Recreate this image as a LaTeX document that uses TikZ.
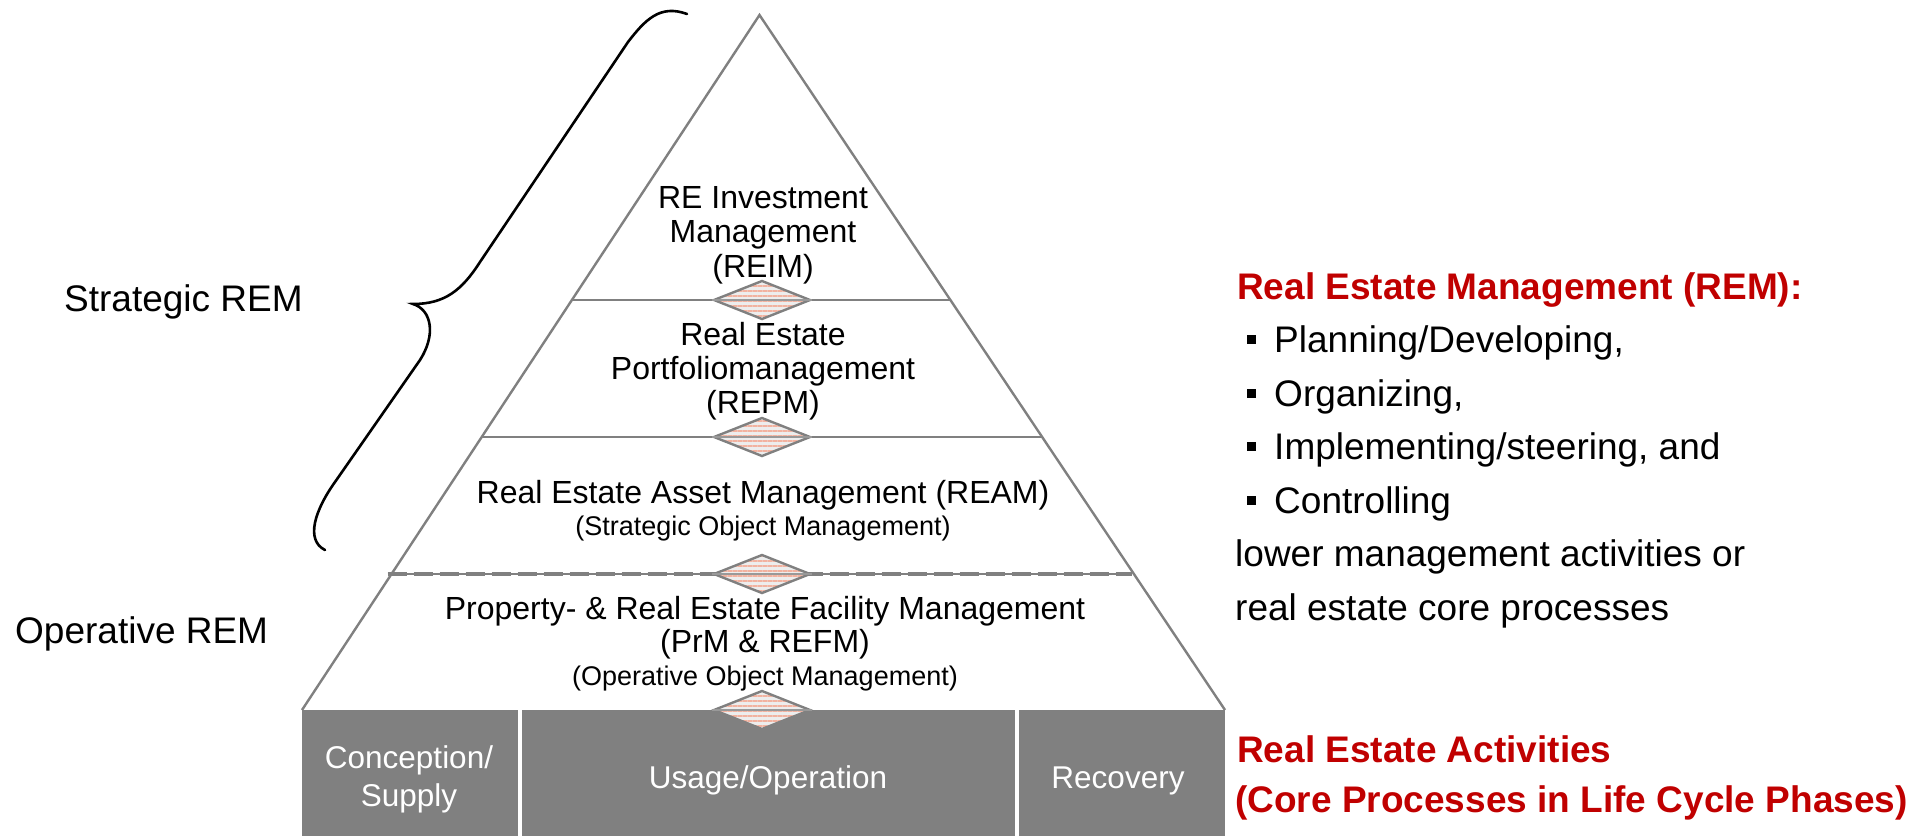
\documentclass[tikz,border=0pt]{standalone}
\usepackage{fontspec}
\setmainfont{Liberation Sans}
\usetikzlibrary{calc,shapes.geometric,patterns.meta}
\definecolor{linegray}{RGB}{128,128,128}
\definecolor{boxgray}{RGB}{128,128,128}
\definecolor{remred}{RGB}{192,0,0}
\definecolor{stripe}{RGB}{242,178,160}
\newcommand{\px}[1]{\fontsize{#1}{#1}\selectfont}

\begin{document}
\begin{tikzpicture}[x=1pt,y=-1pt,
  side/.style={draw=linegray,line width=2.4pt},
  tier/.style={draw=linegray,line width=2.6pt},
  dia/.style={diamond,draw=linegray,line width=2.4pt,minimum width=97pt,
    minimum height=39pt,inner sep=0pt,preaction={fill=gray!14},
    pattern={Lines[angle=0,distance=5pt,line width=2.4pt]},pattern color=stripe},
  core/.style={draw=gray!80,line width=1.4pt},
  txt/.style={anchor=base,inner sep=0pt,font=\px{32}},
  small/.style={anchor=base,inner sep=0pt,font=\px{27}},
  sidelabel/.style={anchor=base west,inner sep=0pt,font=\px{37}},
  list/.style={anchor=base west,inner sep=0pt,font=\px{37}},
  head/.style={anchor=base west,inner sep=0pt,font=\px{37}\bfseries,text=remred},
  phase/.style={fill=boxgray,draw=none,inner sep=0pt,minimum height=126pt},
  phasetxt/.style={anchor=base,inner sep=0pt,font=\px{31.5},text=white},
  bulletbox/.style={fill=black,inner sep=0pt,minimum size=9pt},
]
\useasboundingbox (0,0) rectangle (1930,836);

% pyramid outline
\coordinate (apex) at (759.5,15);
\coordinate (bl) at (302,710);
\coordinate (br) at (1225,710);
\draw[side] (bl) -- (apex) -- (br);

% tier borders
\coordinate (l1) at ($(apex)!0.4101!(bl)$);
\coordinate (r1) at ($(apex)!0.4101!(br)$);
\coordinate (l2) at ($(apex)!0.6072!(bl)$);
\coordinate (r2) at ($(apex)!0.6072!(br)$);
\coordinate (l3) at ($(apex)!0.8043!(bl)+(-4,0)$);
\coordinate (r3) at ($(apex)!0.8043!(br)+(-2,0)$);
\draw[tier] (l1) -- (r1);
\draw[tier] (l2) -- (r2);
\draw[draw=linegray,line width=1.4pt] (l3) -- (r3);
\draw[draw=linegray,line width=4.5pt,dash pattern=on 19pt off 7pt] (l3) -- (r3);

% life cycle phases
\node[phase,minimum width=216pt] (p1) at (410,773) {};
\node[phase,minimum width=493pt] (p2) at (768.5,773) {};
\node[phase,minimum width=206pt] (p3) at (1122,773) {};
\node[phasetxt] (p1a) at (409,768) {Conception/};
\node[phasetxt] (p1b) at (409,806) {Supply};
\node[phasetxt] (p2a) at (768,788) {Usage/Operation};
\node[phasetxt] (p3a) at (1118,788) {Recovery};

% interfaces between the tiers
\foreach \n/\y in {d1/300,d2/437,d3/574,d4/710}{
  \node[dia] (\n) at (762,\y) {};
  \draw[core] (\n.west) -- (\n.east);
}

% tier texts
\node[txt] (t1a) at (763,208) {RE Investment};
\node[txt] (t1b) at (763,242) {Management};
\node[txt] (t1c) at (763,277) {(REIM)};
\node[txt] (t2a) at (763,345) {Real Estate};
\node[txt] (t2b) at (763,379) {Portfoliomanagement};
\node[txt] (t2c) at (763,413) {(REPM)};
\node[txt] (t3a) at (763,503) {Real Estate Asset Management (REAM)};
\node[small] (t3b) at (763,535) {(Strategic Object Management)};
\node[txt] (t4a) at (765,619) {Property- \& Real Estate Facility Management};
\node[txt] (t4b) at (765,652) {(PrM \& REFM)};
\node[small] (t4c) at (765,685) {(Operative Object Management)};

% brace over the strategic tiers
\draw[line width=2.6pt,line cap=round]
  (687,14) .. controls (660,4) and (645,20) .. (628,42)
  -- (480,262) .. controls (462,290) and (445,304) .. (413,304)
  .. controls (432,310) and (436,335) .. (420,360)
  -- (335,482) .. controls (315,510) and (305,540) .. (325,550);

% side labels
\node[sidelabel] (strat) at (64,311) {Strategic REM};
\node[sidelabel] (oper) at (15,643) {Operative REM};

% REM definition
\node[head] (h1) at (1237,299) {Real Estate Management (REM):};
\foreach \n/\y/\t in {i1/352.5/{Planning/Developing,},i2/406/{Organizing,},
                     i3/459.5/{Implementing/steering, and},i4/513/{Controlling}}{
  \node[bulletbox] (\n b) at (1251,\y-13) {};
  \node[list] (\n) at (1274,\y) {\t};
}
\node[list] (low1) at (1235,566.5) {lower management activities or};
\node[list] (low2) at (1235,620) {real estate core processes};

% core processes heading
\node[head] (h2) at (1237,762) {Real Estate Activities};
\node[head] (h3) at (1235,812) {(Core Processes in Life Cycle Phases)};
\end{tikzpicture}
\end{document}
